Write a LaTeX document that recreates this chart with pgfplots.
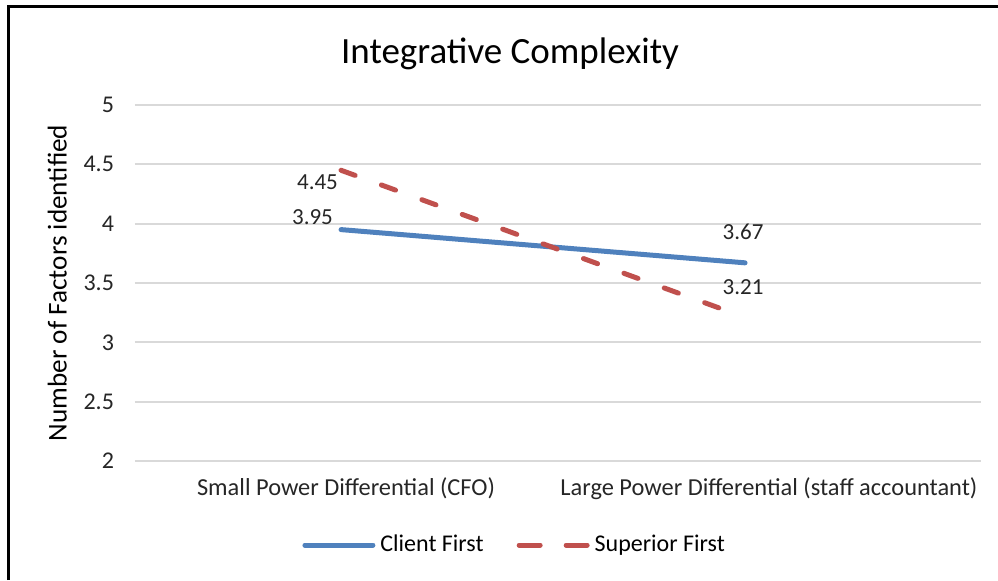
\documentclass[border=0pt]{standalone}
\usepackage{fontspec}
\setmainfont{Carlito}
\usepackage{pgfplots}
\pgfplotsset{compat=1.18}
\definecolor{cblue}{HTML}{4F81BD}
\definecolor{cred}{HTML}{C0504D}
\definecolor{cgrid}{HTML}{D9D9D9}
\begin{document}
\begin{tikzpicture}
\path[use as bounding box] (0pt,0pt) rectangle (499pt,290pt);
\draw[line width=1.5pt,black] (4pt,0pt) -- (4pt,286.5pt) -- (499pt,286.5pt);
\node[font=\fontsize{18.5}{22}\selectfont] at (255pt,263pt) {Integrative Complexity};
\begin{axis}[
  at={(67.5pt,59.5pt)}, anchor=south west,
  scale only axis, width=423pt, height=178pt,
  xmin=-0.51, xmax=1.584, ymin=2, ymax=5,
  ytick={2,2.5,3,3.5,4,4.5,5},
  xtick={0.0124,1.059},
  xticklabels={Small Power Differential (CFO),Large Power Differential (staff accountant)},
  axis line style={draw=none},
  major tick length=0pt,
  ymajorgrids, grid style={cgrid,line width=1pt},
  tick label style={font=\fontsize{12}{14}\selectfont, text=black!85},
  /pgf/number format/assume math mode=true,
  yticklabel style={xshift=-7pt},
  xticklabel style={yshift=-5pt, font=\fontsize{12.2}{14}\selectfont},
  ylabel={Number of Factors identified},
  every axis y label/.style={at={(axis description cs:-0.092,0.5)}, rotate=90, anchor=center,
    font=\fontsize{13.6}{16}\selectfont},
  clip=false,
  legend style={at={(axis description cs:0.4505,-0.236)}, anchor=center, draw=none, fill=none,
    legend columns=2, font=\fontsize{12}{14}\selectfont,
    nodes={inner sep=2.5pt},
    /tikz/every even column/.append style={column sep=14pt}},
  legend image code/.code={\draw[#1] (0pt,0pt) -- (34pt,0pt);},
  nodes near coords, point meta=explicit symbolic,
  every node near coord/.append style={font=\fontsize{11.5}{13}\selectfont, text=black!85},
]
\addplot[cblue, line width=2.5pt, line cap=round,
  coordinate style/.condition={x<0.5}{anchor=south east, xshift=0.5pt, yshift=-2pt},
  coordinate style/.condition={x>0.5}{anchor=south, xshift=-1pt, yshift=7pt}]
  coordinates {(0,3.95)[3.95] (1,3.67)[3.67]};
\addlegendentry{Client First}
\addplot[cred, line width=2.5pt, line cap=round, dash pattern=on 7.5pt off 14pt,
  legend image post style={dash pattern=on 10.5pt off 13pt},
  coordinate style/.condition={x<0.5}{anchor=east, xshift=3pt, yshift=-6pt},
  coordinate style/.condition={x>0.5}{anchor=south, xshift=-1pt, yshift=7pt}]
  coordinates {(0,4.45)[4.45] (1,3.21)[3.21]};
\addlegendentry{Superior First}
\end{axis}
\end{tikzpicture}
\end{document}
